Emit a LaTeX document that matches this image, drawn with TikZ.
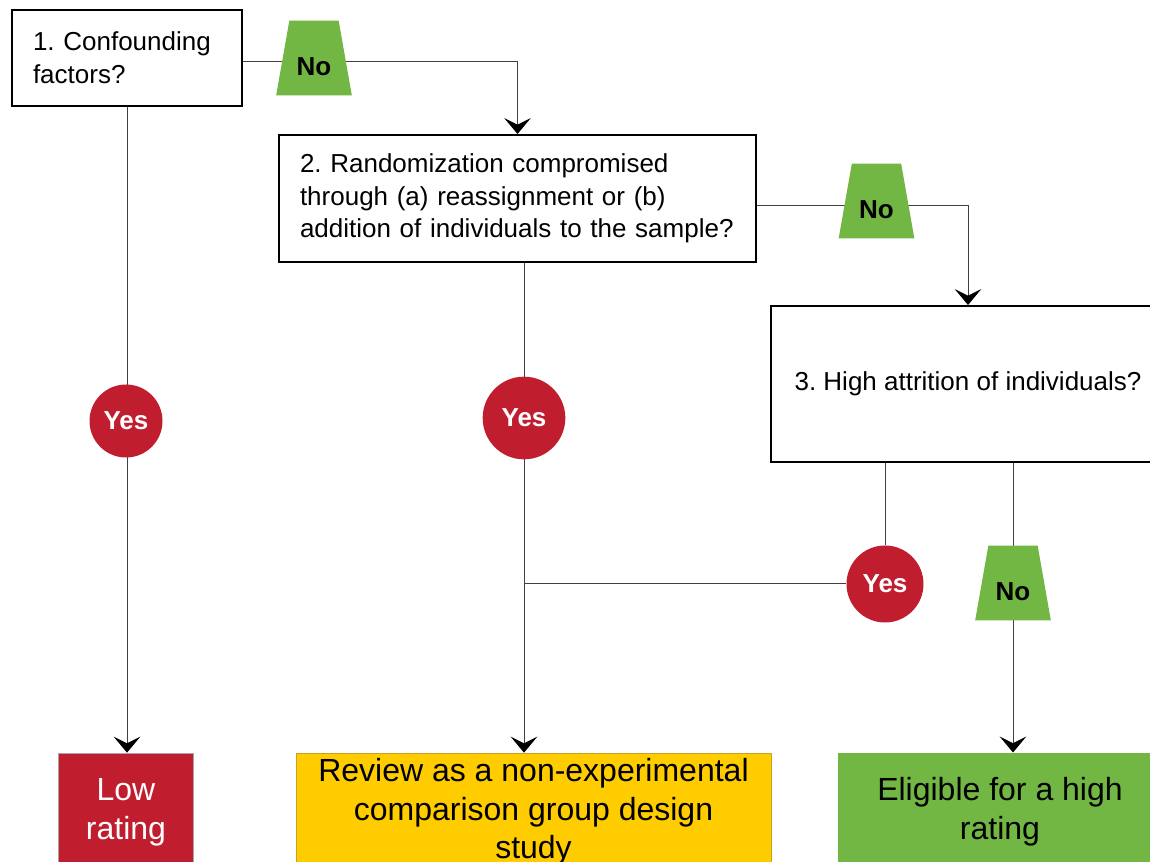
\documentclass[tikz,border=0pt]{standalone}
\usepackage{fontspec}
\setmainfont{Liberation Sans}
\frenchspacing
\usetikzlibrary{shapes.geometric,arrows.meta,backgrounds}

\definecolor{yesred}{RGB}{192,30,46}
\definecolor{nogreen}{RGB}{114,182,68}
\definecolor{reviewyellow}{RGB}{255,204,0}
\definecolor{linegray}{RGB}{64,64,64}

\tikzset{
	qbox/.style={draw, line width=1.5pt, fill=white, font=\fontsize{19.5}{24.5}\selectfont},
	yesdot/.style={circle, fill=yesred, text=white, inner sep=0pt, font=\fontsize{19.5}{24}\selectfont\bfseries},
	nolabel/.style={trapezium, trapezium left angle=80, trapezium right angle=80, fill=nogreen, text height=26pt, text depth=0pt, inner xsep=5.5pt, inner ysep=15pt, font=\fontsize{19.5}{24}\selectfont\bfseries},
	outbox/.style={minimum height=88.5pt, inner sep=0pt, align=center, font=\fontsize{24}{29}\selectfont},
	flow/.style={draw=linegray, line width=0.75pt},
	flowarrow/.style={flow, -{Stealth[length=12pt, width=20pt, inset=5pt, color=black]}}
}
\tikzset{every picture/.style={line width=0.75pt}}

\begin{document}
\begin{tikzpicture}[x=0.75pt,y=0.75pt,yscale=-1,xscale=1]
	\useasboundingbox (0,0) rectangle (1150,862);
	\clip (0,0) rectangle (1150,862);

	%Shape: Rectangle (questions)
	\node[qbox, minimum height=72pt, text width=141pt, inner xsep=15.75pt, align=left] (q1) at (127,58) {1. Confounding\\factors?};
	\node[qbox, minimum height=95.25pt, text width=326.25pt, inner xsep=15.75pt, align=left] (q2) at (517.5,198.5) {2. Randomization compromised\\through (a) reassignment or (b)\\addition of individuals to the sample?};
	\node[qbox, minimum width=295.5pt, minimum height=117pt] (q3) at (968,384) {3. High attrition of individuals?};

	%Shape: Rectangle (ratings)
	\node[outbox, fill=yesred, text=white, draw=black!35, line width=0.5pt, minimum width=101.25pt] (low) at (126,812) {Low\\rating};
	\node[outbox, fill=reviewyellow, draw={rgb,255:red,200;green,160;blue,40}, line width=0.5pt, minimum width=356.25pt] (review) at (533.5,812) {Review as a non-experimental\\comparison group design\\study};
	\node[outbox, fill=nogreen, minimum width=243pt] (high) at (1000,812) {Eligible for a high\\rating};

	% Text Node (answers)
	\node[nolabel] (noA) at (314,58) {No};
	\node[nolabel] (noB) at (876.5,201) {No};
	\node[nolabel] (noC) at (1013,583) {No};
	\node[yesdot, minimum size=54.75pt] (yesA) at (126,421) {Yes};
	\node[yesdot, minimum size=62pt] (yesB) at (524,418) {Yes};
	\node[yesdot, minimum size=57.75pt] (yesC) at (885,584) {Yes};

	%Straight Lines
	\begin{scope}[on background layer]
		\draw[flowarrow] ([yshift=3pt]q1.east) -| (q2.north);
		\draw[flowarrow] ([yshift=5.5pt]q2.east) -| (q3.north);
		\draw[flowarrow] (q1.south) -- (q1.south |- low.north);
		\draw[flowarrow] (yesB |- q2.south) -- (yesB |- review.north);
		\draw[flow] (yesC |- q3.south) -- (yesC.north);
		\draw[flow] (yesC.west) -- (yesB |- yesC.west);
		\draw[flowarrow] (noC |- q3.south) -- (noC |- high.north);
	\end{scope}
\end{tikzpicture}
\end{document}
